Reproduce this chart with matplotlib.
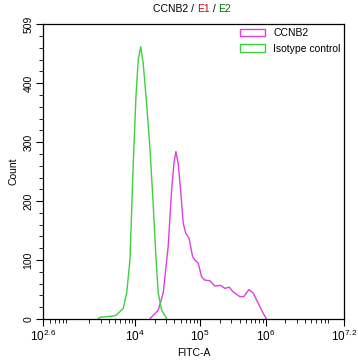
import matplotlib
matplotlib.use("Agg")
import matplotlib.pyplot as plt
from matplotlib.ticker import FixedLocator, NullFormatter
from matplotlib.patches import Patch

plt.rcParams['font.family'] = ['Liberation Sans', 'DejaVu Sans']
plt.rcParams['mathtext.fontset'] = 'custom'
plt.rcParams['mathtext.rm'] = 'Liberation Sans'
plt.rcParams['mathtext.it'] = 'Liberation Sans'

# Data
iso_fitc = [2754, 2931, 4677, 5248, 6653, 7499, 8414, 9462, 10399, 11272, 12274,
            13428, 15136, 16982, 19055, 20989, 22803, 25704, 30620]
iso_count = [0, 3, 5, 7, 18, 44, 100, 264, 377, 440, 462,
             434, 366, 292, 196, 106, 44, 15, 1]

ccnb2_fitc = [17140, 22800, 27160, 32360, 36480, 39630, 42460, 46030, 50120, 54950,
              60260, 67610, 76380, 82790, 93110, 104700, 117500, 140600, 167500, 204600,
              238200, 277300, 319200, 403600, 464500, 554600, 645700, 769100, 916200, 1033000]
ccnb2_count = [1, 15, 44, 123, 219, 264, 284, 264, 219, 163,
               145, 137, 106, 100, 95, 72, 66, 65, 56, 57,
               52, 54, 46, 38, 38, 50, 44, 27, 10, 0]

series_labels = ['CCNB2', 'Isotype control']
x_major = [10**2.6, 1e4, 1e5, 1e6, 10**7.2]
x_major_labels = [r'$10^{2.6}$', r'$10^{4}$', r'$10^{5}$', r'$10^{6}$', r'$10^{7.2}$']
y_major = [0, 100, 200, 300, 400, 500]
y_major_labels = ['0', '100', '200', '300', '400', '509']

PINK = '#dd3fdd'
GREEN = '#3fcf3f'

fig = plt.figure(figsize=(3.58, 3.61), dpi=100)
ax = fig.add_axes([0.121, 0.1163, 0.840, 0.8164])

ax.plot(ccnb2_fitc, ccnb2_count, color=PINK, lw=1.0)
ax.plot(iso_fitc, iso_count, color=GREEN, lw=1.0)

ax.set_xscale('log')
ax.set_xlim(10**2.6, 10**7.2)
ax.set_ylim(0, 500)

ax.xaxis.set_major_locator(FixedLocator(x_major))
ax.set_xticklabels(x_major_labels, fontsize=8.5)
minor = []
for d in range(2, 8):
    for m in range(2, 10):
        v = m * 10**d
        if 10**2.6 < v < 10**7.2:
            minor.append(v)
ax.xaxis.set_minor_locator(FixedLocator(minor))
ax.xaxis.set_minor_formatter(NullFormatter())

ax.yaxis.set_major_locator(FixedLocator(y_major))
ax.set_yticklabels(y_major_labels, fontsize=7.5, rotation=90, va='center')
ax.yaxis.set_minor_locator(FixedLocator(list(range(20, 500, 20))))

ax.tick_params(axis='both', which='major', length=5, width=0.8, direction='out', pad=2)
ax.tick_params(axis='both', which='minor', length=3, width=0.6, direction='out')
for s in ax.spines.values():
    s.set_linewidth(0.9)

ax.set_xlabel('FITC-A', fontsize=7.5, labelpad=3)
ax.set_ylabel('Count', fontsize=7.5, labelpad=4)

handles = [Patch(facecolor='none', edgecolor=PINK, lw=1.0),
           Patch(facecolor='none', edgecolor=GREEN, lw=1.0)]
ax.legend(handles, series_labels, loc='upper right', frameon=False, fontsize=7.5,
          handlelength=2.4, handleheight=0.7, borderaxespad=0.15, labelspacing=0.55,
          handletextpad=0.75, borderpad=0.2)

parts = [('CCNB2 / ', 'black'), ('E1', '#cc0000'), (' / ', 'black'), ('E2', '#007700')]
fs = 7.5
renderer = fig.canvas.get_renderer()
texts = [fig.text(0, 0, s, fontsize=fs, color=c) for s, c in parts]
widths = [t.get_window_extent(renderer).width for t in texts]
total = sum(widths)
cx = 192.0
W, H = fig.bbox.width, fig.bbox.height
pos = cx - total / 2
for t, w in zip(texts, widths):
    t.set_position((pos / W, 1 - 12.5 / H))
    pos += w

fig.savefig('out.png', dpi=100)
